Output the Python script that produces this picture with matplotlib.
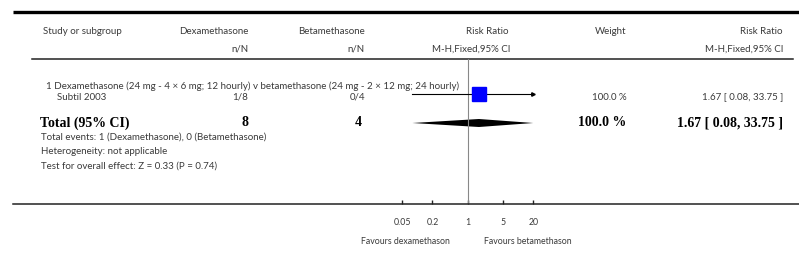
import numpy as np
import matplotlib.pyplot as plt
from matplotlib.patches import Polygon

# data
groups = ['Dexamethasone', 'Betamethasone']
subgroup_title = '1 Dexamethasone (24 mg - 4 \u00d7 6 mg; 12 hourly) v betamethasone (24 mg - 2 \u00d7 12 mg; 24 hourly)'
studies = ['Subtil 2003']
dex_events = [1]
dex_total = [8]
beta_events = [0]
beta_total = [4]
rr = [1.67]
rr_lo = [0.08]
rr_hi = [33.75]
weights = [100.0]
total_rr, total_lo, total_hi = 1.67, 0.08, 33.75
ticks = [0.05, 0.2, 1, 5, 20]
tick_labels = ['0.05', '0.2', '1', '5', '20']
footer = ['Total events: 1 (Dexamethasone), 0 (Betamethasone)',
          'Heterogeneity: not applicable',
          'Test for overall effect: Z = 0.33 (P = 0.74)']

W, H = 799, 272
fig = plt.figure(figsize=(W / 100, H / 100), dpi=100)
tc = '#3a3a3a'
font = 'Lato'
fs = 7

# text layer in pixel coords
ax = fig.add_axes([0, 0, 1, 1])
ax.set_xlim(0, W)
ax.set_ylim(H, 0)
ax.axis('off')

ax.plot([13, W], [12, 12], color='black', lw=2.4, solid_capstyle='butt')
ax.plot([32, 793], [59, 59], color='#222222', lw=1.1)

def t(x, y, s, ha='left', **kw):
    kw.setdefault('fontsize', fs)
    kw.setdefault('family', font)
    kw.setdefault('color', tc)
    ax.text(x, y, s, ha=ha, va='center', **kw)

t(43, 32, 'Study or subgroup')
t(248, 32, groups[0], ha='right')
t(365, 32, groups[1], ha='right')
t(508, 32, 'Risk Ratio', ha='right')
t(626, 32, 'Weight', ha='right')
t(783, 32, 'Risk Ratio', ha='right')
t(248, 49, 'n/N', ha='right')
t(365, 49, 'n/N', ha='right')
t(510, 49, 'M-H,Fixed,95% CI', ha='right')
t(783, 49, 'M-H,Fixed,95% CI', ha='right')

t(46, 86, subgroup_title)
row_y = [97]
for i, s in enumerate(studies):
    y = row_y[i]
    t(57, y, s)
    t(248, y, f'{dex_events[i]}/{dex_total[i]}', ha='right')
    t(365, y, f'{beta_events[i]}/{beta_total[i]}', ha='right')
    t(627, y, f'{weights[i]:.1f} %', ha='right')
    t(783, y, f'{rr[i]:.2f} [ {rr_lo[i]:.2f}, {rr_hi[i]:.2f} ]', ha='right')

ty = 123
bold = dict(family='Liberation Serif', fontweight='bold', fontsize=10, color='black')
t(40, ty, 'Total (95% CI)', **bold)
t(249, ty, str(sum(dex_total)), ha='right', **bold)
t(362, ty, str(sum(beta_total)), ha='right', **bold)
t(626, ty, f'{sum(weights):.1f} %', ha='right', **bold)
t(783, ty, f'{total_rr:.2f} [ {total_lo:.2f}, {total_hi:.2f} ]', ha='right', **bold)

for yy, s in zip([137, 152, 166], footer):
    t(41, yy, s)

t(405, 242, 'Favours dexamethason', ha='center', fontsize=6.3)
t(528, 242, 'Favours betamethason', ha='center', fontsize=6.3)

# forest axes (log scale), x mapped to pixels
ppd = 50.4  # pixels per decade
x1 = 467.7
left, right = 13, W
fa = fig.add_axes([left / W, (H - 204) / H, (right - left) / W, (204 - 59) / H])
fa.set_xscale('log')
fa.set_xlim(10 ** ((left - x1) / ppd), 10 ** ((right - x1) / ppd))
fa.set_ylim(204, 59)
fa.patch.set_alpha(0)
for s in ['top', 'left', 'right']:
    fa.spines[s].set_visible(False)
fa.spines['bottom'].set_linewidth(1.1)
fa.spines['bottom'].set_color('#222222')
fa.set_yticks([])
fa.set_xticks(ticks)
fa.set_xticklabels(tick_labels, family=font, fontsize=6.3, color=tc)
fa.xaxis.set_minor_locator(plt.NullLocator())
fa.tick_params(axis='x', direction='in', length=3, width=1, pad=10, colors='#222222', labelcolor=tc)
fa.axvline(1, color='#888888', lw=0.8)

lo_lim, hi_lim = ticks[0], ticks[-1]
for i in range(len(studies)):
    y = 94
    a, b = max(rr_lo[i], lo_lim), min(rr_hi[i], hi_lim)
    fa.plot([a, b], [y, y], color='black', lw=0.8)
    if rr_hi[i] > hi_lim:
        fa.plot([b], [y], marker='>', color='black', ms=2.5)
    fa.plot([rr[i]], [y], marker='s', ms=9.5, color='#0000ff', mec='#0000ff')

dy = 4
dia = Polygon([[max(total_lo, lo_lim), ty], [total_rr, ty - dy],
               [min(total_hi, hi_lim), ty], [total_rr, ty + dy]],
              closed=True, color='black', lw=0)
fa.add_patch(dia)

plt.savefig('out.png', dpi=100)
